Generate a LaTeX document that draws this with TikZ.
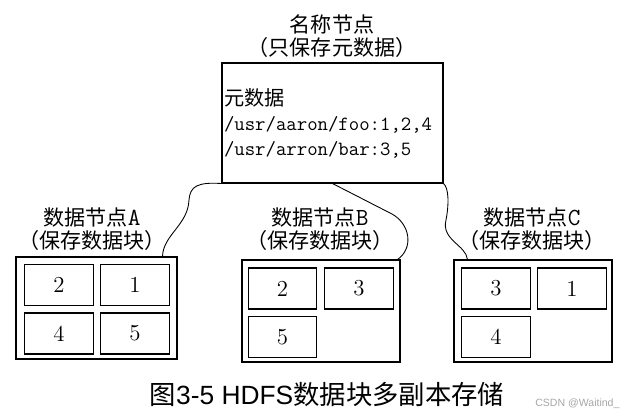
\documentclass[tikz,border=0pt]{standalone}
\usepackage{fontspec}
\newfontfamily\cjk{Noto Sans CJK SC}
\newfontfamily\capfont{Liberation Sans}

\begin{document}
\begin{tikzpicture}[x=0.02cm, y=-0.02cm, line width=0.6pt]
  \tikzstyle{box}=[draw, inner sep=0pt]
  \tikzstyle{cell}=[draw, inner sep=0pt, minimum width=1.37cm,
    minimum height=0.82cm, font=\fontsize{13}{13}\selectfont]
  \tikzstyle{nodetitle}=[align=center, inner sep=0pt,
    font=\fontsize{12}{13}\selectfont]
  \tikzstyle{wire}=[line width=0.5pt]
  \useasboundingbox (0,0) rectangle (629,416);

  % name node
  \node[nodetitle] (nntitle) at (332,36) {{\cjk 名称节点}\\{\cjk （只保存元数据）}};
  \node[box, minimum width=4.42cm, minimum height=2.4cm, text width=4.34cm,
    inner xsep=0.04cm, align=left, font=\ttfamily\fontsize{11.5}{14.2}\selectfont]
    (nn) at (332.5,123)
    {{\cjk 元数据}\\
     /usr/aaron/foo:1,2,4\\
     /usr/arron/bar:3,5};

  % data node A
  \node[nodetitle] (titleA) at (92,229)
    {{\cjk 数据节点}{\ttfamily\fontsize{14}{13}\selectfont A}\\{\cjk （保存数据块）}};
  \node[box, minimum width=3.22cm, minimum height=2.04cm] (dnA) at (96.5,308) {};
  \node[cell] (a1) at (59,285) {2};
  \node[cell] (a2) at (135,285) {1};
  \node[cell] (a3) at (59,333.5) {4};
  \node[cell] (a4) at (135,333.5) {5};

  % data node B
  \node[nodetitle] (titleB) at (320,229)
    {{\cjk 数据节点}{\ttfamily\fontsize{14}{13}\selectfont B}\\{\cjk （保存数据块）}};
  \node[box, minimum width=3.16cm, minimum height=2.04cm] (dnB) at (321,311) {};
  \node[cell] (b1) at (282.5,288.5) {2};
  \node[cell] (b2) at (359,288.5) {3};
  \node[cell] (b3) at (282.5,337) {5};

  % data node C
  \node[nodetitle] (titleC) at (532,229)
    {{\cjk 数据节点}{\ttfamily\fontsize{14}{13}\selectfont C}\\{\cjk （保存数据块）}};
  \node[box, minimum width=3.16cm, minimum height=2.04cm] (dnC) at (533,311) {};
  \node[cell] (c1) at (496,288.5) {3};
  \node[cell] (c2) at (572,288.5) {1};
  \node[cell] (c3) at (496,337) {4};

  % links from name node
  \draw[wire] (nn.south west) .. controls (198,182) and (190,186) .. (189,200)
    .. controls (188,225) and (163,235) .. ([xshift=-0.3cm]dnA.north east);
  \draw[wire] (nn.south) -- (392,214) .. controls (410,224) and (414,248)
    .. ([xshift=-0.06cm]dnB.north east);
  \draw[wire] (nn.south east) .. controls (449,188) and (449,205) .. (446,220)
    .. controls (441,240) and (466,245) .. ([xshift=0.28cm]dnC.north west);

  % caption
  \node[inner sep=0pt, font=\fontsize{15}{15}\selectfont] (cap) at (327,394)
    {{\cjk 图}{\capfont 3-5 HDFS}{\cjk 数据块多副本存储}};
  \node[inner sep=0pt, anchor=east, text=gray!70,
    font=\capfont\fontsize{6}{6}\selectfont] (mark) at (620,404) {CSDN @Waitind\_};
\end{tikzpicture}
\end{document}
